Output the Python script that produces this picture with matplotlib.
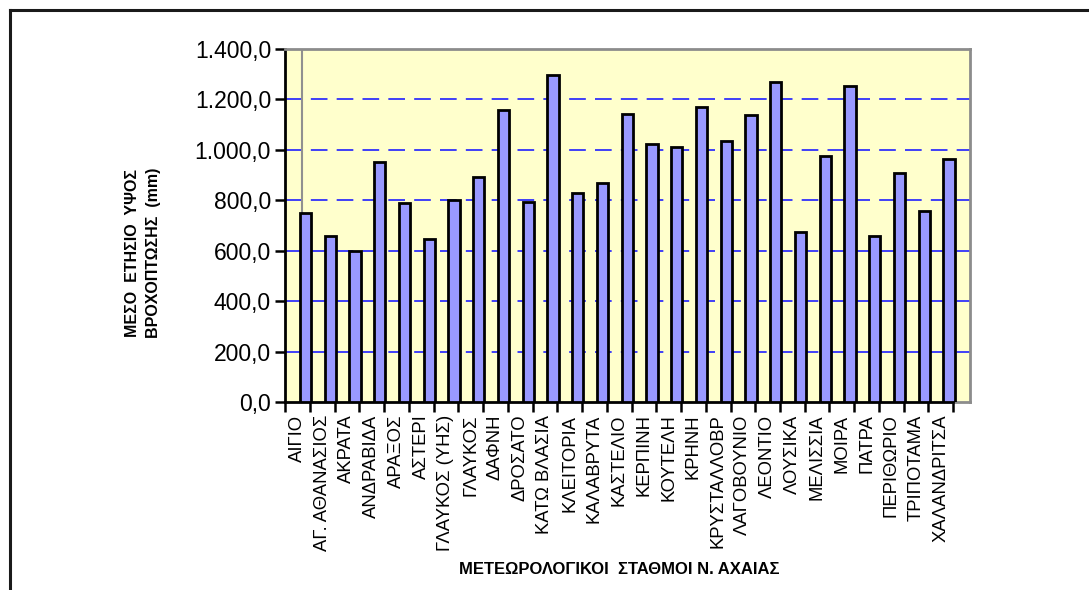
import matplotlib
matplotlib.use("Agg")
import matplotlib.pyplot as plt
from matplotlib.ticker import FuncFormatter, FixedLocator
from matplotlib.lines import Line2D

plt.rcParams['font.family'] = ['Liberation Sans', 'DejaVu Sans']

stations = [
    "ΑΙΓΙΟ", "ΑΓ. ΑΘΑΝΑΣΙΟΣ", "ΑΚΡΑΤΑ", "ΑΝΔΡΑΒΙΔΑ", "ΑΡΑΞΟΣ", "ΑΣΤΕΡΙ",
    "ΓΛΑΥΚΟΣ (ΥΗΣ)", "ΓΛΑΥΚΟΣ", "ΔΑΦΝΗ", "ΔΡΟΣΑΤΟ", "ΚΑΤΩ ΒΛΑΣΙΑ",
    "ΚΛΕΙΤΟΡΙΑ", "ΚΑΛΑΒΡΥΤΑ", "ΚΑΣΤΕΛΙΟ", "ΚΕΡΠΙΝΗ", "ΚΟΥΤΕΛΗ", "ΚΡΗΝΗ",
    "ΚΡΥΣΤΑΛΛΟΒΡ", "ΛΑΓΟΒΟΥΝΙΟ", "ΛΕΟΝΤΙΟ", "ΛΟΥΣΙΚΑ", "ΜΕΛΙΣΣΙΑ", "ΜΟΙΡΑ",
    "ΠΑΤΡΑ", "ΠΕΡΙΘΩΡΙΟ", "ΤΡΙΠΟΤΑΜΑ", "ΧΑΛΑΝΔΡΙΤΣΑ",
]
rainfall_mm = [
    750, 658, 598, 953, 789, 646, 800, 892, 1159, 792, 1298,
    827, 867, 1143, 1022, 1012, 1169, 1036, 1137, 1268, 674, 974, 1252,
    658, 908, 758, 965,
]
y_ticks = [0, 200, 400, 600, 800, 1000, 1200, 1400]

y_label = "ΜΕΣΟ  ΕΤΗΣΙΟ  ΥΨΟΣ\nΒΡΟΧΟΠΤΩΣΗΣ  (mm)"
x_label = "ΜΕΤΕΩΡΟΛΟΓΙΚΟΙ  ΣΤΑΘΜΟΙ Ν. ΑΧΑΙΑΣ"

W, H = 1089, 590
fig = plt.figure(figsize=(W / 100, H / 100), dpi=100)
fig.patch.set_facecolor("white")

# outer frame (left and top edges)
fig.add_artist(Line2D([10 / W, 10 / W], [0, 1 - 10 / H], transform=fig.transFigure,
                      color="#1a1a1a", lw=2.2))
fig.add_artist(Line2D([10 / W, 1], [1 - 10 / H, 1 - 10 / H], transform=fig.transFigure,
                      color="#1a1a1a", lw=2.2))

left, right, top, bottom = 285, 970, 49, 402
ax = fig.add_axes([left / W, 1 - bottom / H, (right - left) / W, (bottom - top) / H])
ax.set_facecolor("#ffffcc")

n = len(stations)
px_per_cat = 24.75
xmax = (right - left) / px_per_cat
ax.set_xlim(0, xmax)
ax.set_ylim(0, 1400)

# dashed grid
for v in y_ticks[1:-1]:
    ax.axhline(v, color="#1f1fff", lw=1.2, dashes=(10, 5.5), zorder=1)

# back wall edge
ax.plot([0.69, 0.69], [0, 1400], color="#909090", lw=1.5, zorder=1.5)

positions = [i + 0.6 for i in range(n)]
ax.bar(positions, rainfall_mm, width=0.46, align="edge", color="#9999ff",
       edgecolor="black", linewidth=2.0, zorder=3)

# spines
for s in ("top", "right"):
    ax.spines[s].set_color("#8c8c8c")
    ax.spines[s].set_linewidth(2.0)
ax.spines["left"].set_color("black")
ax.spines["left"].set_linewidth(2.0)
ax.spines["bottom"].set_color("black")
ax.spines["bottom"].set_linewidth(2.0)
ax.spines["bottom"].set_bounds(0, n)
ax.plot([n, xmax], [0, 0], color="#8c8c8c", lw=2.0, clip_on=False, zorder=2)

# y axis
ax.set_yticks(y_ticks)
ax.yaxis.set_major_formatter(FuncFormatter(
    lambda v, p: f"{v:,.1f}".replace(",", "X").replace(".", ",").replace("X", ".")))
ax.tick_params(axis="y", direction="out", length=7, width=1.8, color="black",
               labelsize=16.5, pad=3)

# x axis: ticks at category boundaries, labels at category centres
ax.xaxis.set_major_locator(FixedLocator(list(range(n + 1))))
ax.xaxis.set_major_formatter(FuncFormatter(lambda v, p: ""))
ax.xaxis.set_minor_locator(FixedLocator([i + 0.5 for i in range(n)]))
ax.set_xticklabels(stations, minor=True, rotation=90, fontsize=13.3)
ax.tick_params(axis="x", which="major", direction="out", length=7, width=1.8, color="black")
ax.tick_params(axis="x", which="minor", length=0, pad=9)

fig.text(143 / W, 1 - 253 / H, y_label, rotation=90, ha="center", va="center",
         fontsize=11.5, fontweight="bold", multialignment="center", linespacing=1.45)
fig.text(619 / W, 1 - 570 / H, x_label, ha="center", va="center",
         fontsize=12, fontweight="bold")

fig.savefig("out.png", dpi=100, facecolor="white")
